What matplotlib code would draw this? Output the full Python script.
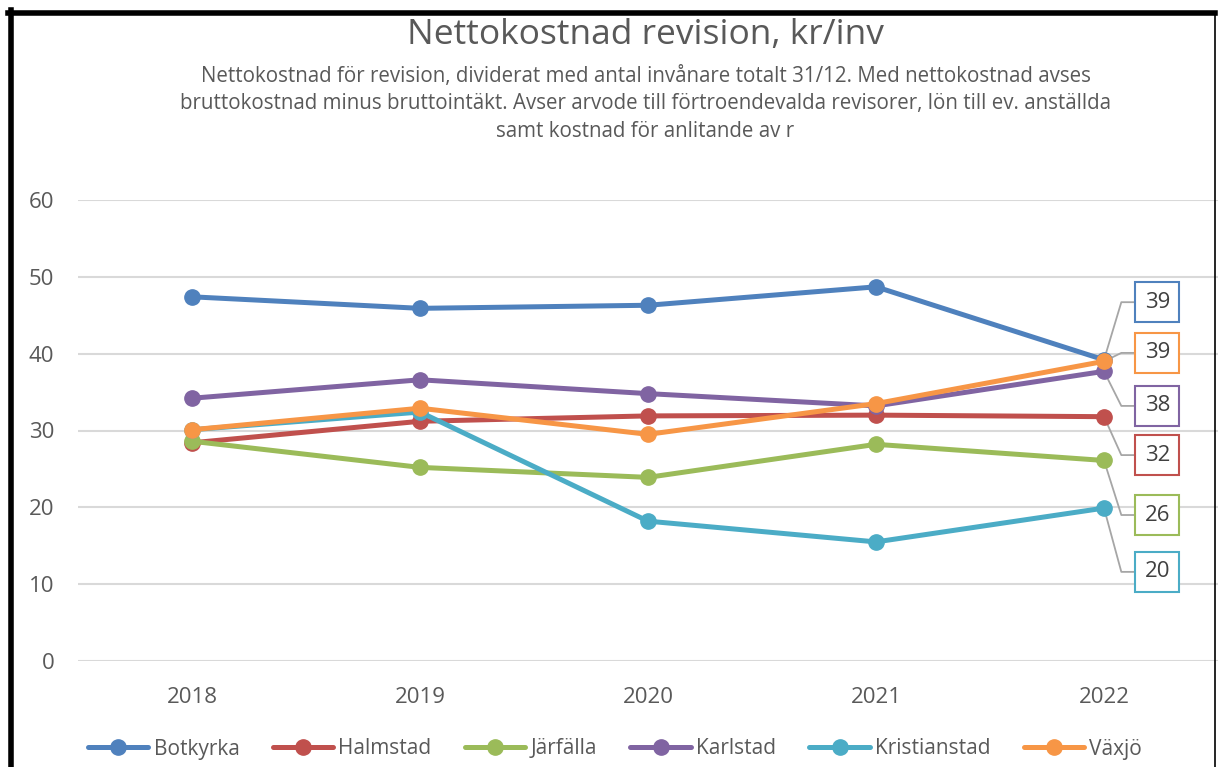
import numpy as np
import matplotlib
matplotlib.use('Agg')
from matplotlib import pyplot as plt
from matplotlib.lines import Line2D

plt.rcParams['font.family'] = ['Open Sans', 'DejaVu Sans']

years = ['2018', '2019', '2020', '2021', '2022']
botkyrka = [47.4, 45.9, 46.3, 48.7, 39.2]
halmstad = [28.4, 31.2, 31.9, 32.0, 31.8]
jarfalla = [28.6, 25.2, 23.9, 28.2, 26.1]
karlstad = [34.2, 36.6, 34.8, 33.2, 37.7]
kristianstad = [30.1, 32.4, 18.2, 15.5, 19.9]
vaxjo = [30.1, 32.9, 29.5, 33.5, 39.0]

names = ['Botkyrka', 'Halmstad', 'Järfälla', 'Karlstad', 'Kristianstad', 'Växjö']
series = [botkyrka, halmstad, jarfalla, karlstad, kristianstad, vaxjo]
colors = ['#4F81BD', '#C0504D', '#9BBB59', '#8064A2', '#4BACC6', '#F79646']
end_labels = ['39', '32', '26', '38', '20', '39']
# y position (data units) of each end-label box
label_y = [46.7, 26.8, 19.0, 33.2, 11.6, 40.1]

grey = '#595959'

fig = plt.figure(figsize=(12.18, 7.67), dpi=100)
ax = fig.add_axes([78 / 1218, 1 - 661 / 767, 1 - 78 / 1218, (661 - 200) / 767])

x = np.arange(len(years))
for vals, name, c in zip(series, names, colors):
    ax.plot(x, vals, color=c, lw=3.6, marker='o', ms=11, label=name,
            solid_capstyle='round', zorder=3)

# callout labels at the last point
bx = 4.136
for vals, lab, ly, c in zip(series, end_labels, label_y, colors):
    ax.plot([x[-1], bx - 0.06, bx], [vals[-1], ly, ly], color='#A6A6A6',
            lw=1.3, zorder=2, clip_on=False)
    ax.text(bx + 0.098, ly, lab, ha='center', va='center', fontsize=16,
            color='#404040', zorder=5,
            bbox=dict(boxstyle='square,pad=0.42', fc='white', ec=c, lw=1.5))

ax.set_xlim(-0.5, 4.5)
ax.set_ylim(0, 60)
ax.set_yticks(np.arange(0, 61, 10))
ax.set_xticks(x)
ax.set_xticklabels(years)
ax.grid(axis='y', color='#D9D9D9', lw=1.5)
ax.set_axisbelow(True)
for s in ax.spines.values():
    s.set_visible(False)
ax.tick_params(length=0, labelsize=16, colors=grey)
ax.tick_params(axis='y', pad=17)
ax.tick_params(axis='x', pad=19)

fig.text(0.53, 1 - 35 / 767, 'Nettokostnad revision, kr/inv', ha='center',
         va='center', fontsize=25.5, color=grey)
fig.text(0.53, 1 - 104 / 767,
         'Nettokostnad för revision, dividerat med antal invånare totalt 31/12. Med nettokostnad avses\n'
         'bruttokostnad minus bruttointäkt. Avser arvode till förtroendevalda revisorer, lön till ev. anställda\n'
         'samt kostnad för anlitande av r',
         ha='center', va='center', fontsize=14.8, color=grey, linespacing=1.42)

fig.legend(loc='center', bbox_to_anchor=(0.505, 1 - 749 / 767), ncol=6,
           frameon=False, fontsize=15, handlelength=2.9, handletextpad=0.25,
           columnspacing=1.6, labelcolor=grey)

# outer frame
fig.add_artist(Line2D([10.5 / 1218, 10.5 / 1218], [0, 1 - 10 / 767], color='black',
                      lw=4, transform=fig.transFigure))
fig.add_artist(Line2D([8 / 1218, 1215 / 1218], [1 - 12.5 / 767, 1 - 12.5 / 767],
                      color='black', lw=4, transform=fig.transFigure))
fig.add_artist(Line2D([1215 / 1218, 1215 / 1218], [0, 1 - 12 / 767], color='black',
                      lw=1.2, transform=fig.transFigure))

fig.savefig('out.png', dpi=100)
